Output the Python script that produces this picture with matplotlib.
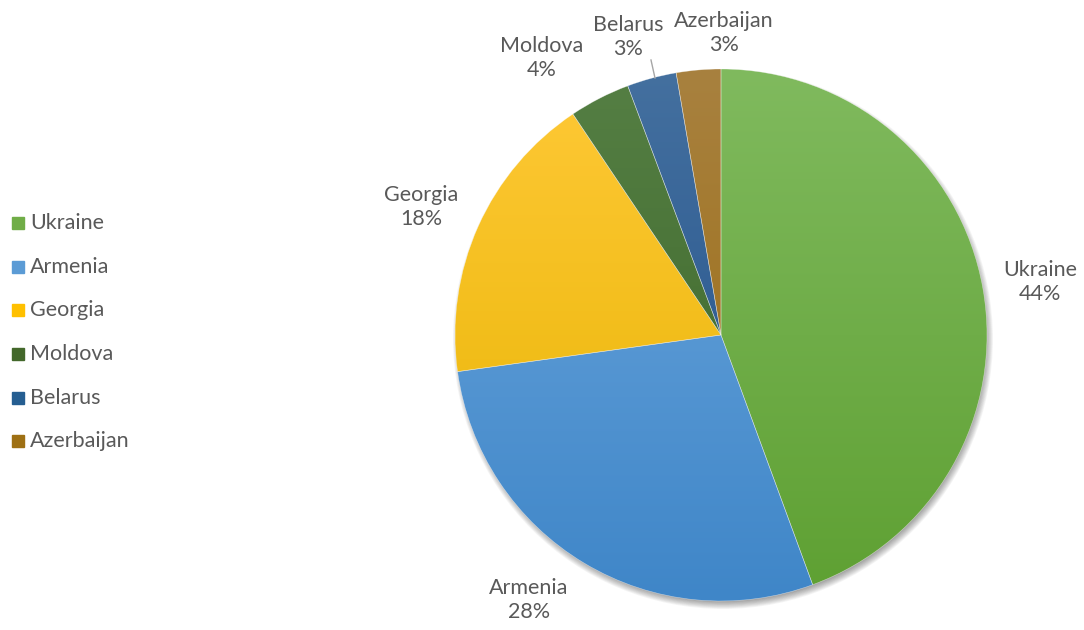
import matplotlib.pyplot as plt
import numpy as np
from matplotlib.colors import LinearSegmentedColormap
from matplotlib.patches import Circle, Rectangle

countries = ["Ukraine", "Armenia", "Georgia", "Moldova", "Belarus", "Azerbaijan"]
shares = [44.4, 28.4, 17.8, 3.7, 3.0, 2.7]
top_colors = ["#80BA5E", "#6EA8DE", "#FFC937", "#557F44", "#44709F", "#A8813F"]
bottom_colors = ["#5EA032", "#3F86C8", "#E6B300", "#3A6426", "#1F4E89", "#9A6A0C"]
legend_colors = ["#70AD47", "#5B9BD5", "#FFC000", "#43682B", "#255E91", "#9E7014"]

W, H = 1084, 630
cx, cy, r = 721, H - 335, 266
text_color = "#595959"
plt.rcParams['font.family'] = ['Lato', 'DejaVu Sans']

fig = plt.figure(figsize=(W / 100, H / 100), dpi=100)
ax = fig.add_axes([0, 0, 1, 1])
ax.set_xlim(0, W)
ax.set_ylim(0, H)
ax.set_aspect('equal')
ax.axis('off')

# soft drop shadow under the pie
for k in range(10):
    ax.add_patch(Circle((cx + 2, cy - 4), r + 4 - k * 0.8, color="black",
                        alpha=0.04, lw=0, zorder=1))

wedges, _ = ax.pie(shares, center=(cx, cy), radius=r, startangle=90,
                   counterclock=False, frame=True,
                   wedgeprops=dict(linewidth=0.4, edgecolor="#FFFFFF80"))
ax.set_xlim(0, W)
ax.set_ylim(0, H)
ax.axis('off')

# vertical gradient for each slice, clipped to the wedge
grad = np.linspace(1, 0, 256).reshape(-1, 1)
for w, c0, c1 in zip(wedges, top_colors, bottom_colors):
    cmap = LinearSegmentedColormap.from_list("g", [c1, c0])
    w.set_facecolor("none")
    w.set_zorder(3)
    im = ax.imshow(grad, cmap=cmap, extent=(cx - r, cx + r, cy - r, cy + r),
                   origin='upper', aspect='auto', zorder=2, vmin=0, vmax=1)
    im.set_clip_path(w)
ax.set_xlim(0, W)
ax.set_ylim(0, H)

# data labels
label_pos = [(1040, 282), (529, 600), (421, 207), (542, 58), (628, 37), (724, 33)]
for name, v, (x, y) in zip(countries, shares, label_pos):
    ax.text(x, H - y, f"{name}\n{v:.0f}%", ha='center', va='center',
            fontsize=15.5, color=text_color, linespacing=1.25, zorder=5)
ax.plot([651, 655], [H - 60, H - 78], color="#A6A6A6", lw=1, zorder=4)

# legend
legend_y = [223, 267, 310, 354, 398, 441]
for name, col, y in zip(countries, legend_colors, legend_y):
    ax.add_patch(Rectangle((12, H - y - 6), 12, 12, color=col, zorder=5))
    ax.text(30, H - y, name, ha='left', va='center', fontsize=15.5,
            color=text_color, zorder=5)

fig.savefig("out.png", dpi=100)
